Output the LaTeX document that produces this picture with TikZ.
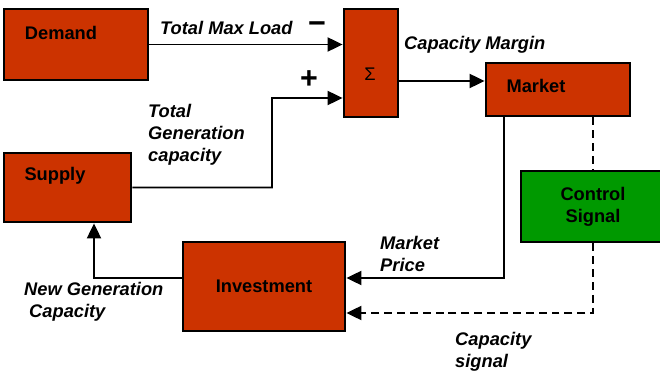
\documentclass[tikz,border=0pt]{standalone}
\usepackage{fontspec}
\setmainfont{Liberation Sans}
\usetikzlibrary{arrows.meta}
\newcommand{\boxfont}{\fontsize{15.6}{18.9}\selectfont\bfseries}
\definecolor{blockred}{HTML}{CC3300}
\definecolor{blockgreen}{HTML}{009900}
\begin{document}
\begin{tikzpicture}[x=0.03cm,y=-0.03cm,
  block/.style={draw=black,line width=2.4pt,inner sep=0pt,font=\boxfont,align=center},
  blocktitle/.style={inner sep=0pt,font=\boxfont},
  lbl/.style={anchor=base west,align=left,inner sep=0pt,font=\boxfont\itshape},
  flow/.style={line width=1.7pt,-{Triangle[length=0.45cm,width=0.42cm]}},
  signal/.style={flow,dash pattern=on 6.8pt off 4.2pt}]
\clip (0,0) rectangle (660,371);
% blocks
\node[block,fill=blockred,minimum width=4.32cm,minimum height=2.13cm] (demand) at (76,44.5) {};
\node[block,fill=blockred,minimum width=1.62cm,minimum height=3.24cm] (sum) at (371,63) {};
\node[block,fill=blockred,minimum width=4.32cm,minimum height=1.59cm] (market) at (558,89.5) {};
\node[block,fill=blockred,minimum width=3.81cm,minimum height=2.07cm] (supply) at (67.5,187.5) {};
\node[block,fill=blockgreen,minimum width=4.32cm,minimum height=2.13cm] (control) at (593,206.5) {Control\\Signal};
\node[block,fill=blockred,minimum width=4.86cm,minimum height=2.67cm] (investment) at (264,286.5) {Investment};
\node[blocktitle] (demandname) at (61,33) {Demand};
\node[blocktitle] (marketname) at (536,86) {Market};
\node[blocktitle] (supplyname) at (55,176) {Supply};
\node[inner sep=0pt,font=\fontsize{15.6}{18.7}\selectfont] (sigma) at (370,74) {\char"03A3};
% connectors
\draw[flow] (demand.east) -- (demand.east -| sum.west);
\draw[flow] (supply.east) -| (272,98) -- ([yshift=-1.05cm]sum.west);
\draw[flow] ([yshift=-0.54cm]sum.east) -- ([yshift=-0.54cm]sum.east -| market.west);
\draw[flow] ([xshift=0.57cm]market.south west) |- ([yshift=0.255cm]investment.east);
\draw[signal,-] (control.north |- market.south) -- (control.north);
\draw[signal] (control.south) |- ([yshift=-0.795cm]investment.east);
\draw[flow] ([yshift=0.255cm]investment.west) -| ([xshift=0.795cm]supply.south);
% labels (multi-line ones sit on the baseline of their last line)
\node[lbl] (maxload) at (160,35) {Total Max Load};
\node[font=\fontsize{26}{30}\selectfont\bfseries,inner sep=0pt] (minus) at (317,28) {\char"2212};
\node[font=\fontsize{26}{30}\selectfont\bfseries,inner sep=0pt] (plus) at (309,80) {+};
\node[lbl] (margin) at (404,50) {Capacity Margin};
\node[lbl] (totalgen) at (148,162) {Total\\Generation\\capacity};
\node[lbl] (newgen) at (24,318) {New Generation\\\hspace*{0.15cm}Capacity};
\node[lbl] (price) at (380,272) {Market\\Price};
\node[lbl] (capsignal) at (455,368) {Capacity\\signal};
\end{tikzpicture}
\end{document}
